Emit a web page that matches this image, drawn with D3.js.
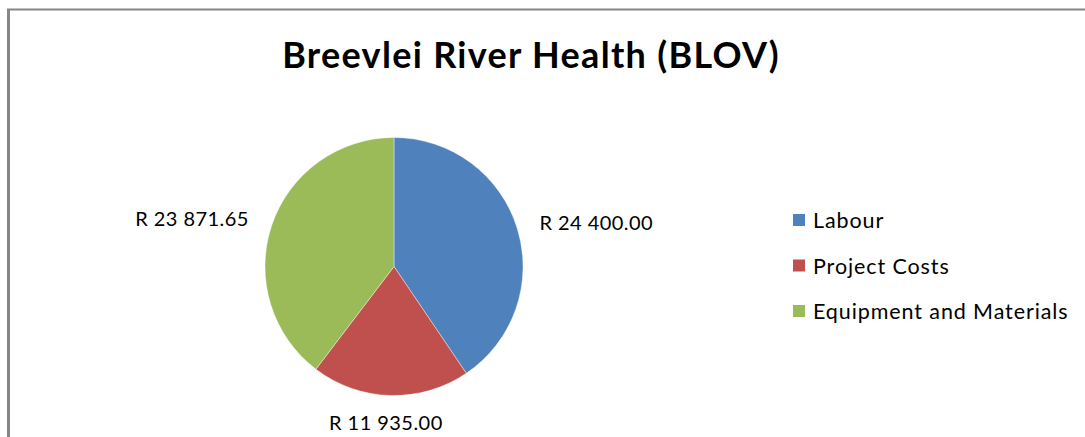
<!DOCTYPE html>
<html>
<head>
<meta charset="utf-8">
<script src="https://cdn.jsdelivr.net/npm/d3@7"></script>
<style>
  body { margin: 0; background: #fff; }
  text { font-family: Lato, "Open Sans", sans-serif; fill: #000; }
</style>
</head>
<body>
<svg id="svg"></svg>
<script>
const width = 1085;
const height = 437;

// chart data
const categories = ["Labour", "Project Costs", "Equipment and Materials"];
const values = [24400.00, 11935.00, 23871.65];
const labels = ["R 24 400.00", "R 11 935.00", "R 23 871.65"];
const colours = ["#4F81BD", "#C0504D", "#9BBB59"];
const title = "Breevlei River Health (BLOV)";

const cx = 394, cy = 266.5, radius = 129;

const svg = d3.select("#svg")
    .attr("width", width)
    .attr("height", height);

svg.append("rect")
    .attr("width", width)
    .attr("height", height)
    .attr("fill", "white");

// chart frame (only top and left edges are visible)
svg.append("line")
    .attr("x1", 8.5).attr("y1", 9)
    .attr("x2", 8.5).attr("y2", height)
    .attr("stroke", "#868686")
    .attr("stroke-width", 3);
svg.append("line")
    .attr("x1", 7).attr("y1", 9.5)
    .attr("x2", width).attr("y2", 9.5)
    .attr("stroke", "#868686")
    .attr("stroke-width", 2);

svg.append("text")
    .attr("x", 531)
    .attr("y", 68)
    .attr("text-anchor", "middle")
    .style("font-weight", "bold")
    .style("font-size", "36px")
    .style("letter-spacing", "1.3px")
    .text(title);

const color = d3.scaleOrdinal()
    .domain(categories)
    .range(colours);

const pie = d3.pie()
    .sort(null)
    .value(d => d.value);

const data = categories.map((c, i) => ({ name: c, value: values[i], label: labels[i] }));
const arcs = pie(data);

const arc = d3.arc().innerRadius(0).outerRadius(radius);
const labelArc = d3.arc().innerRadius(radius + 21).outerRadius(radius + 21);

const g = svg.append("g")
    .attr("transform", `translate(${cx},${cy})`);

g.selectAll("path")
    .data(arcs)
    .enter().append("path")
    .attr("d", arc)
    .attr("fill", d => color(d.data.name))
    .attr("stroke", "#ffffff")
    .attr("stroke-width", 0.4);

g.selectAll("text.val")
    .data(arcs)
    .enter().append("text")
    .attr("class", "val")
    .attr("transform", d => {
        const p = labelArc.centroid(d);
        return `translate(${p[0]},${p[1]})`;
    })
    .attr("dy", d => {
        const mid = (d.startAngle + d.endAngle) / 2;
        return Math.cos(mid) < -0.9 ? "0.7em" : "0.35em";
    })
    .attr("dx", d => {
        const s = Math.sin((d.startAngle + d.endAngle) / 2);
        if (Math.abs(s) < 0.3) return -4;
        return s > 0 ? 2 : -3;
    })
    .attr("text-anchor", d => {
        const s = Math.sin((d.startAngle + d.endAngle) / 2);
        if (Math.abs(s) < 0.3) return "middle";
        return s > 0 ? "start" : "end";
    })
    .style("font-size", "20px")
    .style("letter-spacing", "0.45px")
    .text(d => d.data.label);

// legend
const legend = svg.append("g")
    .attr("transform", "translate(793,0)");

const items = legend.selectAll("g")
    .data(categories)
    .enter().append("g")
    .attr("transform", (d, i) => `translate(0,${214 + i * 45.5})`);

items.append("rect")
    .attr("width", 12)
    .attr("height", 12)
    .attr("fill", d => color(d));

items.append("text")
    .attr("x", 20)
    .attr("y", 14)
    .style("font-size", "21.5px")
    .style("letter-spacing", "0.9px")
    .text(d => d);
</script>
</body>
</html>
